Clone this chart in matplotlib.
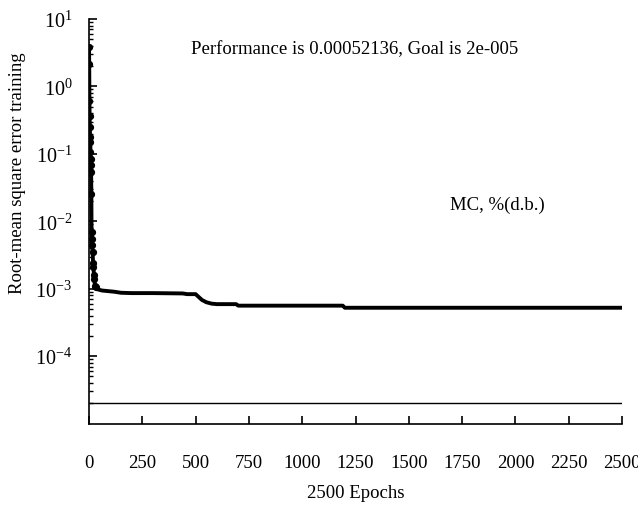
import matplotlib
matplotlib.use("Agg")
import matplotlib.pyplot as plt
from matplotlib.ticker import LogLocator, FixedLocator, NullFormatter

plt.rcParams['font.family'] = ['Liberation Serif', 'DejaVu Serif']
plt.rcParams['mathtext.fontset'] = 'custom'
plt.rcParams['mathtext.rm'] = 'Liberation Serif'
plt.rcParams['mathtext.it'] = 'Liberation Serif:italic'

# Training record (epoch, RMSE)
epochs = [0, 1, 2, 3, 4, 5, 6, 7, 8, 9, 10, 11, 12, 13, 15, 17, 19, 21, 23, 25,
          28, 33, 40, 60, 90, 120, 150, 200, 300, 440, 460, 500, 515, 530, 550,
          575, 600, 690, 700, 1190, 1200, 2500]
rmse = [3.85, 2.15, 0.61, 0.36, 0.25, 0.18, 0.15, 0.106, 0.084, 0.068, 0.054,
        0.025, 0.0069, 0.0055, 0.0045, 0.0035, 0.0024, 0.0021, 0.0016, 0.0014,
        0.0011, 0.00105, 0.00098, 0.00094, 0.00092, 0.00090, 0.00087, 0.00086,
        0.00086, 0.00085, 0.00083, 0.00083, 0.00075, 0.00068, 0.00063, 0.00060,
        0.00059, 0.00059, 0.00056, 0.00056, 0.00052136, 0.00052136]
goal_epochs = [0, 2500]
goal_values = [2e-5, 2e-5]
x_ticks = [0, 250, 500, 750, 1000, 1250, 1500, 1750, 2000, 2250, 2500]
y_ticks = [1e-4, 1e-3, 1e-2, 1e-1, 1e0, 1e1]
y_tick_labels = [r'$10^{-4}$', r'$10^{-3}$', r'$10^{-2}$', r'$10^{-1}$', r'$10^{0}$', r'$10^{1}$']

fig = plt.figure(figsize=(6.38, 5.06), dpi=100)
ax = fig.add_axes([0.1395, 0.161, 0.8355, 0.7995])

ax.plot(epochs, rmse, color='black', linewidth=2.8, marker='o', markersize=4.2,
        markevery=list(range(22)), solid_joinstyle='round', solid_capstyle='round')
ax.plot(goal_epochs, goal_values, color='black', linewidth=1.0)

ax.set_yscale('log')
ax.set_xlim(0, 2500)
ax.set_ylim(1e-5, 10)

ax.spines['top'].set_visible(False)
ax.spines['right'].set_visible(False)
ax.spines['left'].set_linewidth(1.2)
ax.spines['bottom'].set_linewidth(1.2)

ax.xaxis.set_major_locator(FixedLocator(x_ticks))
ax.set_xticklabels([str(t) for t in x_ticks], fontsize=13.5)
ax.yaxis.set_major_locator(FixedLocator(y_ticks))
ax.set_yticklabels(y_tick_labels, fontsize=14.5)
ax.yaxis.set_minor_locator(LogLocator(base=10, subs=range(2, 10), numticks=20))
ax.yaxis.set_minor_formatter(NullFormatter())

ax.tick_params(axis='x', direction='in', length=6, width=1.2, pad=22)
ax.tick_params(axis='y', which='major', direction='in', length=6, width=1.2, pad=12)
ax.tick_params(axis='y', which='minor', direction='in', length=3, width=1.0)

ax.set_xlabel('2500 Epochs', fontsize=13.5, labelpad=9)
ax.set_ylabel('Root-mean square error training', fontsize=13.5, va='center')
ax.yaxis.set_label_coords(-0.135, 0.622)

fig.text(355 / 638, 1 - 50 / 506, 'Performance is 0.00052136, Goal is 2e-005',
         fontsize=13.5, ha='center', va='center')
fig.text(497 / 638, 1 - 205 / 506, 'MC, %(d.b.)', fontsize=13.5, ha='center', va='center')

fig.savefig('out.png', dpi=100)
